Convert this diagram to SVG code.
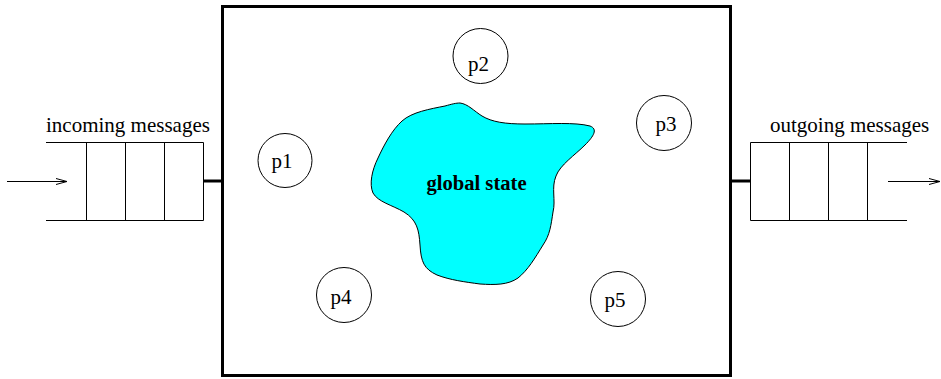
<svg xmlns="http://www.w3.org/2000/svg" width="941" height="379" viewBox="0 0 941 379">
<style>
.t{font-family:"Liberation Serif",serif;font-size:21px;fill:#000}
.b{font-weight:bold;font-size:20.6px}
.q{fill:none;stroke:#000;stroke-width:1}
.p{fill:#fff;stroke:#000;stroke-width:1}
.thick{stroke:#000;stroke-width:3;fill:none}
</style>
<defs>
<marker id="ah" markerWidth="12" markerHeight="8" refX="11" refY="4" orient="auto" markerUnits="userSpaceOnUse">
<path d="M0,1 L11,4 L0,7" fill="none" stroke="#000" stroke-width="1"/>
</marker>
</defs>
<rect width="941" height="379" fill="#fff"/>
<g id="system">
<rect x="222.5" y="6.5" width="508" height="369" fill="none" stroke="#000" stroke-width="3"/>
</g>
<g id="global-state">
<path d="M460,103 C468,104 474,111 482,116 C492,122 505,124 525,124 C550,124 575,122 590,126 C598,129 594,136 585,145 C575,155 560,165 556,176 C551,188 556,200 553,212 C551,225 550,235 543,245 C535,258 528,270 518,278 C508,285 495,285 480,284 C465,282 450,280 437,275 C424,269 421,262 420,245 C419,230 417,220 404,212 C392,205 378,202 373,193 C369,184 372,170 378,158 C384,145 392,130 402,121 C412,112 430,109 445,106 C452,104 456,103 460,103 Z" fill="#00ffff" stroke="#000" stroke-width="1"/>
<text class="t b" x="476.5" y="190" text-anchor="middle">global state</text>
</g>
<g id="p1"><circle class="p" cx="285" cy="160.5" r="27"/><text class="t" x="282" y="168" text-anchor="middle">p1</text></g>
<g id="p2"><circle class="p" cx="480.5" cy="56" r="27.5"/><text class="t" x="478.5" y="70.5" text-anchor="middle">p2</text></g>
<g id="p3"><circle class="p" cx="664" cy="123" r="27.5"/><text class="t" x="666" y="131" text-anchor="middle">p3</text></g>
<g id="p4"><circle class="p" cx="344" cy="295" r="27.5"/><text class="t" x="341" y="304" text-anchor="middle">p4</text></g>
<g id="p5"><circle class="p" cx="618" cy="299" r="27.5"/><text class="t" x="615" y="307" text-anchor="middle">p5</text></g>
<g id="incoming">
<text class="t" x="46" y="132">incoming messages</text>
<path class="q" d="M46,142.5 H203.5 M46,220.5 H203.5 M86.5,142.5 V220.5 M125.5,142.5 V220.5 M164.5,142.5 V220.5 M203.5,142.5 V220.5"/>
</g>
<g id="outgoing">
<text class="t" x="770" y="132">outgoing messages</text>
<path class="q" d="M750.5,142.5 H907 M750.5,220.5 H907 M750.5,142.5 V220.5 M789.5,142.5 V220.5 M828.5,142.5 V220.5 M867.5,142.5 V220.5"/>
</g>
<g id="connectors">
<line class="thick" x1="203.5" y1="181" x2="222" y2="181"/>
<line class="thick" x1="731" y1="181" x2="750.5" y2="181"/>
<line x1="7" y1="181.5" x2="67" y2="181.5" stroke="#000" stroke-width="1" marker-end="url(#ah)"/>
<line x1="888" y1="181.5" x2="940" y2="181.5" stroke="#000" stroke-width="1" marker-end="url(#ah)"/>
</g>
</svg>
